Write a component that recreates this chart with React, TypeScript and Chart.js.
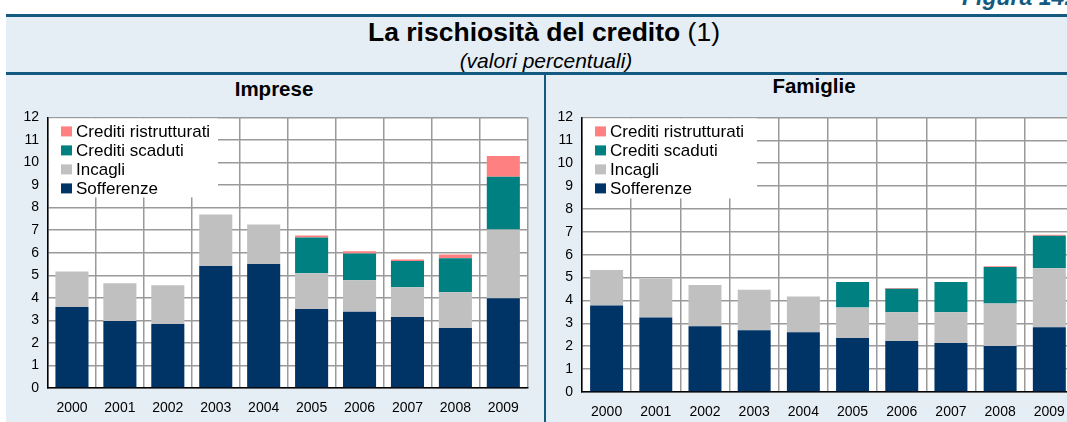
import React, { useEffect, useRef } from "react";
import { Chart, registerables } from "chart.js";

Chart.register(...registerables);

// ---------- DATA ----------
const years = ["2000", "2001", "2002", "2003", "2004", "2005", "2006", "2007", "2008", "2009"];
const yTicks = [0, 1, 2, 3, 4, 5, 6, 7, 8, 9, 10, 11, 12];

// Imprese (valori percentuali)
const impreseSofferenze = [3.59, 2.97, 2.84, 5.41, 5.5, 3.5, 3.38, 3.15, 2.66, 3.98];
const impreseIncagli = [1.58, 1.68, 1.72, 2.28, 1.75, 1.59, 1.4, 1.32, 1.59, 3.05];
const impreseScaduti = [null, null, null, null, null, 1.58, 1.19, 1.16, 1.5, 2.34];
const impreseRistrutturati = [null, null, null, null, null, 0.09, 0.09, 0.07, 0.17, 0.92];

// Famiglie (valori percentuali)
const famiglieSofferenze = [3.78, 3.26, 2.87, 2.7, 2.61, 2.36, 2.23, 2.14, 2.01, 2.83];
const famiglieIncagli = [1.55, 1.68, 1.81, 1.77, 1.56, 1.33, 1.25, 1.34, 1.86, 2.58];
const famiglieScaduti = [null, null, null, null, null, 1.12, 1.03, 1.33, 1.59, 1.42];
const famiglieRistrutturati = [null, null, null, null, null, null, 0.04, null, 0.04, 0.04];

const seriesLabels = ["Sofferenze", "Incagli", "Crediti scaduti", "Crediti ristrutturati"];
const seriesColors = ["#003366", "#c0c0c0", "#008080", "#ff8080"];

const FONT = '"Liberation Sans", Arial, sans-serif';
const FRAME = "#14597f";
const BG = "#e6eef5";

type PanelCfg = {
  series: (number | null)[][];
  padTop: number;
  padRight: number;
  yWidth: number;
  xHeight: number;
  barPct: number;
  legendW: number;
  legendH: number;
};

function StackPanel(props: {
  left: number;
  top: number;
  width: number;
  height: number;
  cfg: PanelCfg;
}) {
  const ref = useRef<HTMLCanvasElement | null>(null);
  useEffect(() => {
    const canvas = ref.current;
    if (!canvas) return;
    const { cfg } = props;
    const legendPlugin = {
      id: "insideLegend",
      beforeDraw(chart: any) {
        const { ctx, chartArea: a } = chart;
        ctx.save();
        ctx.fillStyle = "#ffffff";
        ctx.fillRect(a.left, a.top, a.right - a.left, a.bottom - a.top);
        ctx.restore();
      },
      beforeDatasetsDraw(chart: any) {
        const { ctx, chartArea: a } = chart;
        ctx.save();
        ctx.fillStyle = "#ffffff";
        ctx.fillRect(a.left + 1, a.top + 1, cfg.legendW, cfg.legendH);
        const items = chart.data.datasets.slice().reverse();
        ctx.font = `17px ${FONT}`;
        ctx.textBaseline = "middle";
        items.forEach((ds: any, i: number) => {
          const cy = a.top + 14 + i * 19;
          ctx.fillStyle = ds.backgroundColor;
          ctx.fillRect(a.left + 13, cy - 5, 11, 10);
          ctx.fillStyle = "#000000";
          ctx.fillText(ds.label, a.left + 28, cy + 1);
        });
        ctx.restore();
      },
    };
    const chart = new Chart(canvas, {
      type: "bar",
      data: {
        labels: years,
        datasets: seriesLabels.map((label, i) => ({
          label,
          data: cfg.series[i],
          backgroundColor: seriesColors[i],
          borderWidth: 0,
          barPercentage: cfg.barPct,
          categoryPercentage: 1,
        })),
      },
      options: {
        animation: false,
        responsive: false,
        maintainAspectRatio: false,
        layout: { padding: { top: cfg.padTop, right: cfg.padRight, left: 0, bottom: 0 } },
        plugins: { legend: { display: false }, tooltip: { enabled: false } },
        scales: {
          x: {
            stacked: true,
            grid: { color: "#9a9a9a", lineWidth: 1.5, drawTicks: false, offset: true },
            border: { color: "#000000", width: 1.5 },
            ticks: { color: "#000000", font: { family: FONT, size: 14 }, padding: 12, maxRotation: 0 },
            afterFit: (s: any) => {
              s.height = cfg.xHeight;
            },
          },
          y: {
            stacked: true,
            min: 0,
            max: 12,
            afterBuildTicks: (s: any) => {
              s.ticks = yTicks.map((v) => ({ value: v }));
            },
            ticks: { color: "#000000", font: { family: FONT, size: 14 }, padding: 9 },
            grid: { color: "#9a9a9a", lineWidth: 1.5, drawTicks: false },
            border: { color: "#000000", width: 1.5 },
            afterFit: (s: any) => {
              s.width = cfg.yWidth;
            },
          },
        },
      } as any,
      plugins: [legendPlugin],
    });
    return () => chart.destroy();
  }, []);
  return (
    <canvas
      ref={ref}
      width={props.width}
      height={props.height}
      style={{
        position: "absolute",
        left: props.left,
        top: props.top,
        width: props.width,
        height: props.height,
      }}
    />
  );
}

export default function App() {
  return (
    <div
      style={{
        position: "fixed",
        left: 0,
        top: 0,
        width: 1067,
        height: 422,
        overflow: "hidden",
        background: "#ffffff",
        fontFamily: FONT,
      }}
    >
      <div
        style={{
          position: "absolute",
          left: 962,
          top: -14,
          fontSize: 23,
          lineHeight: "23px",
          fontWeight: "bold",
          fontStyle: "italic",
          color: FRAME,
          whiteSpace: "nowrap",
        }}
      >
        Figura 14.6
      </div>
      <div style={{ position: "absolute", left: 6, top: 14, right: 0, bottom: 0, background: BG }} />
      <div style={{ position: "absolute", left: 6, top: 14, right: 0, height: 2.5, background: FRAME }} />
      <div style={{ position: "absolute", left: 6, top: 72, right: 0, height: 2.5, background: FRAME }} />
      <div style={{ position: "absolute", left: 544, top: 72, width: 2, bottom: 0, background: FRAME }} />
      <div
        style={{
          position: "absolute",
          left: 544,
          top: 19,
          transform: "translateX(-50%)",
          fontSize: 26.5,
          lineHeight: "26px",
          whiteSpace: "nowrap",
          color: "#000",
        }}
      >
        <b>La rischiosità del credito</b> (1)
      </div>
      <div
        style={{
          position: "absolute",
          left: 546,
          top: 50,
          transform: "translateX(-50%)",
          fontSize: 21,
          lineHeight: "21px",
          fontStyle: "italic",
          whiteSpace: "nowrap",
          color: "#000",
        }}
      >
        (valori percentuali)
      </div>
      <div
        style={{
          position: "absolute",
          left: 274,
          top: 79,
          transform: "translateX(-50%)",
          fontSize: 20.5,
          lineHeight: "20px",
          fontWeight: "bold",
          whiteSpace: "nowrap",
          color: "#000",
        }}
      >
        Imprese
      </div>
      <div
        style={{
          position: "absolute",
          left: 814,
          top: 76,
          transform: "translateX(-50%)",
          fontSize: 20.5,
          lineHeight: "20px",
          fontWeight: "bold",
          whiteSpace: "nowrap",
          color: "#000",
        }}
      >
        Famiglie
      </div>
      <StackPanel
        left={0}
        top={100}
        width={531}
        height={322}
        cfg={{
          series: [impreseSofferenze, impreseIncagli, impreseScaduti, impreseRistrutturati],
          padTop: 16,
          padRight: 2,
          yWidth: 48,
          xHeight: 34,
          barPct: 0.69,
          legendW: 169,
          legendH: 79,
        }}
      />
      <StackPanel
        left={540}
        top={100}
        width={537}
        height={322}
        cfg={{
          series: [famiglieSofferenze, famiglieIncagli, famiglieScaduti, famiglieRistrutturati],
          padTop: 13,
          padRight: 2,
          yWidth: 42,
          xHeight: 30,
          barPct: 0.67,
          legendW: 174,
          legendH: 80,
        }}
      />
    </div>
  );
}
